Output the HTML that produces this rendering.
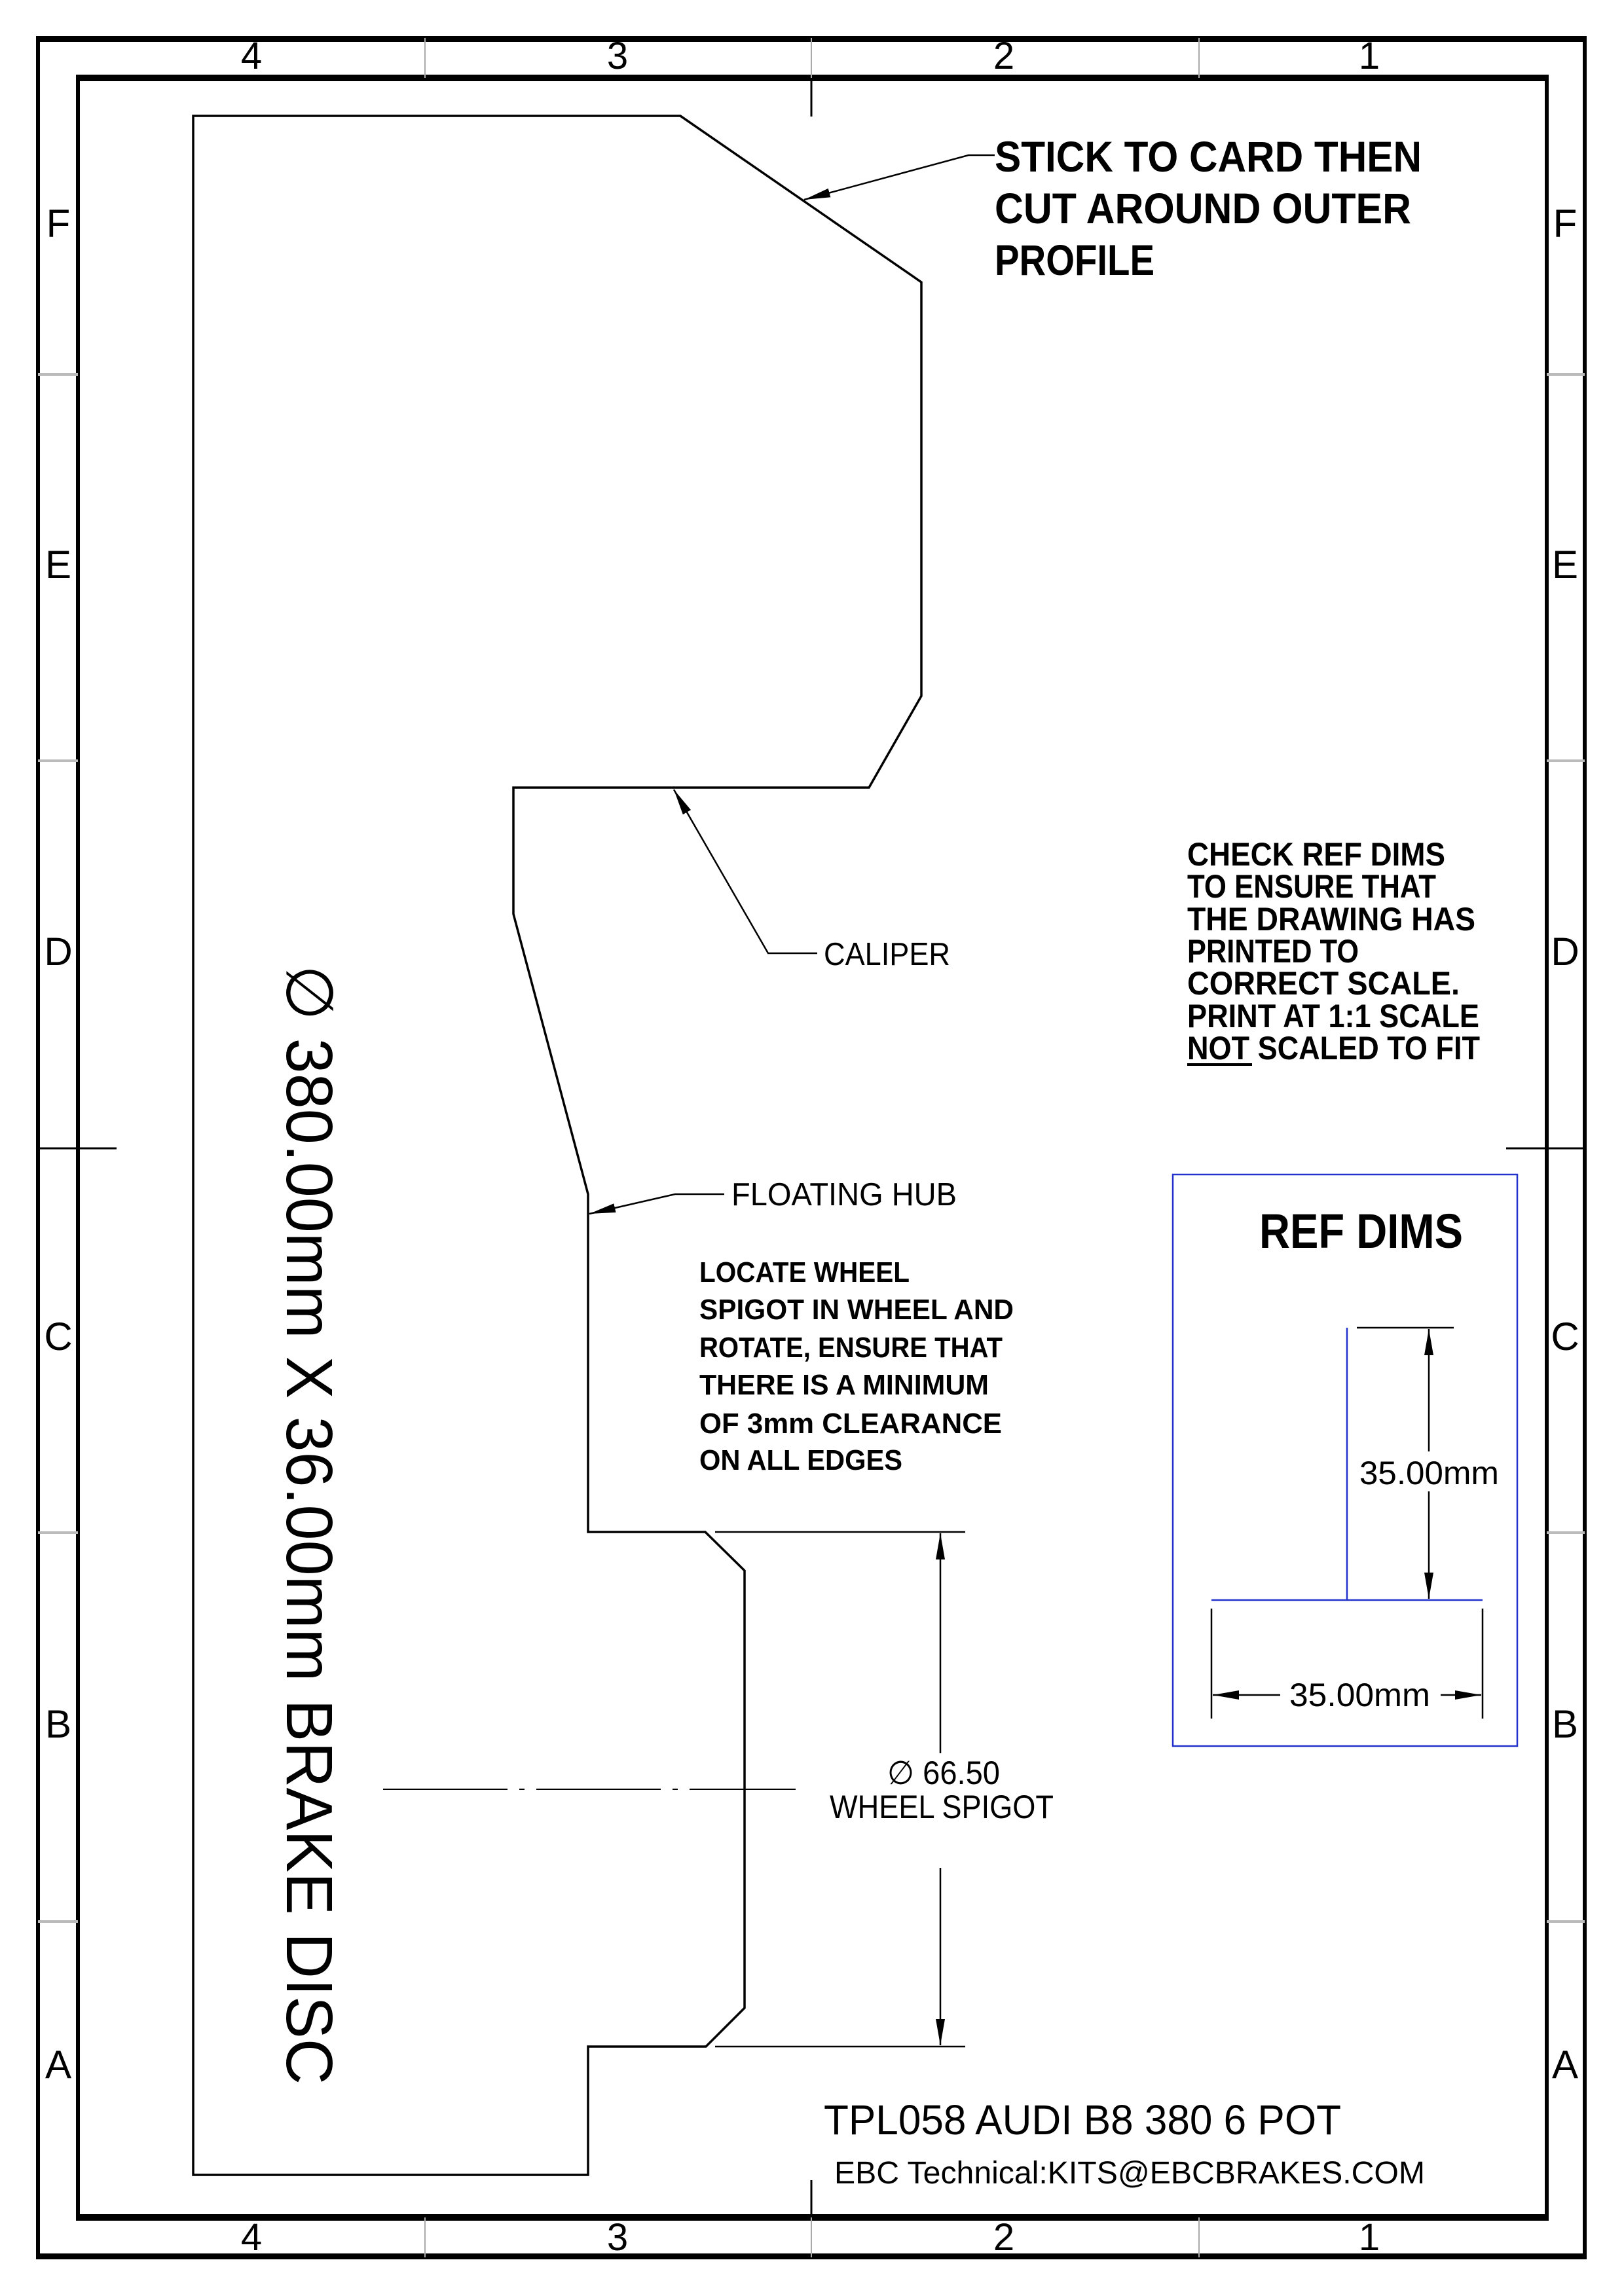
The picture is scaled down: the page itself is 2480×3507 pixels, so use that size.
<!DOCTYPE html>
<html><head><meta charset="utf-8"><style>
html,body{margin:0;padding:0;background:#fff;}
svg{display:block;}
text{font-family:"Liberation Sans",sans-serif;fill:#000;}
</style></head><body>
<svg width="2480" height="3507" viewBox="0 0 2480 3507" xmlns="http://www.w3.org/2000/svg">
<defs>
<marker id="ar" markerWidth="40" markerHeight="14" refX="40" refY="7" orient="auto" markerUnits="userSpaceOnUse">
<path d="M0,0 L40,7 L0,14 Z" fill="#000"/>
</marker>
</defs>
<rect width="2480" height="3507" fill="#fff"/>
<rect x="58" y="58" width="2362" height="3390" fill="none" stroke="#000" stroke-width="6"/>
<line x1="55" y1="60" x2="2423" y2="60" stroke="#000" stroke-width="8"/>
<line x1="55" y1="3446" x2="2423" y2="3446" stroke="#000" stroke-width="8"/>
<rect x="119" y="119" width="2243" height="3268" fill="none" stroke="#000" stroke-width="6"/>
<line x1="116" y1="119" x2="2365" y2="119" stroke="#000" stroke-width="10"/>
<line x1="116" y1="3387" x2="2365" y2="3387" stroke="#000" stroke-width="10"/>
<g stroke="#aaa" stroke-width="2">
<line x1="649" y1="58" x2="649" y2="119"/><line x1="1239" y1="58" x2="1239" y2="119"/><line x1="1831" y1="58" x2="1831" y2="119"/>
<line x1="649" y1="3387" x2="649" y2="3448"/><line x1="1239" y1="3387" x2="1239" y2="3448"/><line x1="1831" y1="3387" x2="1831" y2="3448"/>
</g>
<g stroke="#bbb" stroke-width="4">
<line x1="58" y1="572" x2="119" y2="572"/><line x1="58" y1="1162" x2="119" y2="1162"/><line x1="58" y1="2341" x2="119" y2="2341"/><line x1="58" y1="2935" x2="119" y2="2935"/>
<line x1="2362" y1="572" x2="2420" y2="572"/><line x1="2362" y1="1162" x2="2420" y2="1162"/><line x1="2362" y1="2341" x2="2420" y2="2341"/><line x1="2362" y1="2935" x2="2420" y2="2935"/>
</g>
<g stroke="#000" stroke-width="3">
<line x1="1239" y1="119" x2="1239" y2="178"/>
<line x1="1239" y1="3330" x2="1239" y2="3387"/>
<line x1="58" y1="1754" x2="178" y2="1754"/>
<line x1="2300" y1="1754" x2="2420" y2="1754"/>
</g>
<g font-size="58" text-anchor="middle">
<text x="384" y="105">4</text><text x="943" y="105">3</text><text x="1533" y="105">2</text><text x="2091" y="105">1</text>
<text x="384" y="3437">4</text><text x="943" y="3437">3</text><text x="1533" y="3437">2</text><text x="2091" y="3437">1</text>
</g>
<g font-size="60" text-anchor="middle">
<text x="89" y="362">F</text><text x="89" y="883">E</text><text x="89" y="1474">D</text><text x="89" y="2062">C</text><text x="89" y="2654">B</text><text x="89" y="3174">A</text>
<text x="2390" y="362">F</text><text x="2390" y="883">E</text><text x="2390" y="1474">D</text><text x="2390" y="2062">C</text><text x="2390" y="2654">B</text><text x="2390" y="3174">A</text>
</g>
<polygon points="295,177 1039,177 1407,431 1407,1063 1327,1203 784,1203 784,1396 898,1824 898,2340 1077,2340 1137,2399 1137,3067 1078,3126 898,3126 898,3322 295,3322" fill="none" stroke="#000" stroke-width="3.5"/>
<g stroke="#000" stroke-width="2.5">
<line x1="1092" y1="2340" x2="1474" y2="2340"/>
<line x1="1092" y1="3126" x2="1474" y2="3126"/>
<line x1="1436" y1="2678" x2="1436" y2="2342" marker-end="url(#ar)"/>
<line x1="1436" y1="2853" x2="1436" y2="3124" marker-end="url(#ar)"/>
</g>
<text x="1441" y="2725" font-size="50" text-anchor="middle" textLength="172" lengthAdjust="spacingAndGlyphs">∅ 66.50</text>
<text x="1438" y="2777" font-size="50" text-anchor="middle" textLength="342" lengthAdjust="spacingAndGlyphs">WHEEL SPIGOT</text>
<line x1="585" y1="2733" x2="1215" y2="2733" stroke="#000" stroke-width="2" stroke-dasharray="190,18,8,18"/>
<text transform="translate(438,1474) rotate(90)" font-size="100" textLength="1710" lengthAdjust="spacingAndGlyphs">∅ 380.00mm X 36.00mm BRAKE DISC</text>
<g stroke="#000" stroke-width="2.5" fill="none">
<polyline points="1519,237 1479,237 1228,305" marker-end="url(#ar)"/>
<polyline points="1248,1456 1173,1456 1029,1206" marker-end="url(#ar)"/>
<polyline points="1106,1824 1031,1824 900,1854" marker-end="url(#ar)"/>
</g>
<g font-size="66" font-weight="bold">
<text x="1519" y="262" textLength="652" lengthAdjust="spacingAndGlyphs">STICK TO CARD THEN</text>
<text x="1519" y="341" textLength="636" lengthAdjust="spacingAndGlyphs">CUT AROUND OUTER</text>
<text x="1519" y="420" textLength="244" lengthAdjust="spacingAndGlyphs">PROFILE</text>
</g>
<text x="1258" y="1474" font-size="49" textLength="193" lengthAdjust="spacingAndGlyphs">CALIPER</text>
<text x="1117" y="1841" font-size="49" textLength="344" lengthAdjust="spacingAndGlyphs">FLOATING HUB</text>
<g font-size="44" font-weight="bold">
<text x="1068" y="1958" textLength="321" lengthAdjust="spacingAndGlyphs">LOCATE WHEEL</text>
<text x="1068" y="2015" textLength="480" lengthAdjust="spacingAndGlyphs">SPIGOT IN WHEEL AND</text>
<text x="1068" y="2073" textLength="463" lengthAdjust="spacingAndGlyphs">ROTATE, ENSURE THAT</text>
<text x="1068" y="2130" textLength="442" lengthAdjust="spacingAndGlyphs">THERE IS A MINIMUM</text>
<text x="1068" y="2189" textLength="462" lengthAdjust="spacingAndGlyphs">OF 3mm CLEARANCE</text>
<text x="1068" y="2245" textLength="310" lengthAdjust="spacingAndGlyphs">ON ALL EDGES</text>
</g>
<g font-size="50" font-weight="bold">
<text x="1813" y="1322" textLength="394" lengthAdjust="spacingAndGlyphs">CHECK REF DIMS</text>
<text x="1813" y="1371" textLength="380" lengthAdjust="spacingAndGlyphs">TO ENSURE THAT</text>
<text x="1813" y="1421" textLength="440" lengthAdjust="spacingAndGlyphs">THE DRAWING HAS</text>
<text x="1813" y="1470" textLength="262" lengthAdjust="spacingAndGlyphs">PRINTED TO</text>
<text x="1813" y="1519" textLength="416" lengthAdjust="spacingAndGlyphs">CORRECT  SCALE.</text>
<text x="1813" y="1569" textLength="446" lengthAdjust="spacingAndGlyphs">PRINT AT 1:1 SCALE</text>
<text x="1813" y="1618" textLength="447" lengthAdjust="spacingAndGlyphs">NOT SCALED TO FIT</text>
</g>
<line x1="1813" y1="1626" x2="1912" y2="1626" stroke="#000" stroke-width="4"/>
<rect x="1791" y="1794" width="526" height="873" fill="none" stroke="#2233cc" stroke-width="2.5"/>
<text x="1923" y="1906" font-size="74" font-weight="bold" textLength="311" lengthAdjust="spacingAndGlyphs">REF DIMS</text>
<line x1="2057" y1="2028" x2="2057" y2="2444" stroke="#2233cc" stroke-width="2.5"/>
<line x1="1850" y1="2444" x2="2264" y2="2444" stroke="#2233cc" stroke-width="2.5"/>
<g stroke="#000" stroke-width="2.5">
<line x1="2072" y1="2028" x2="2220" y2="2028"/>
<line x1="2182" y1="2217" x2="2182" y2="2030" marker-end="url(#ar)"/>
<line x1="2182" y1="2278" x2="2182" y2="2442" marker-end="url(#ar)"/>
<line x1="1850" y1="2457" x2="1850" y2="2625"/>
<line x1="2264" y1="2457" x2="2264" y2="2625"/>
<line x1="1955" y1="2589" x2="1852" y2="2589" marker-end="url(#ar)"/>
<line x1="2200" y1="2589" x2="2262" y2="2589" marker-end="url(#ar)"/>
</g>
<text x="2076" y="2267" font-size="50" textLength="213" lengthAdjust="spacingAndGlyphs">35.00mm</text>
<text x="1969" y="2606" font-size="50" textLength="215" lengthAdjust="spacingAndGlyphs">35.00mm</text>
<text x="1258" y="3260" font-size="64" textLength="790" lengthAdjust="spacingAndGlyphs">TPL058 AUDI B8 380 6 POT</text>
<text x="1274" y="3335" font-size="48" textLength="902" lengthAdjust="spacingAndGlyphs">EBC Technical:KITS@EBCBRAKES.COM</text>
</svg>
</body></html>
